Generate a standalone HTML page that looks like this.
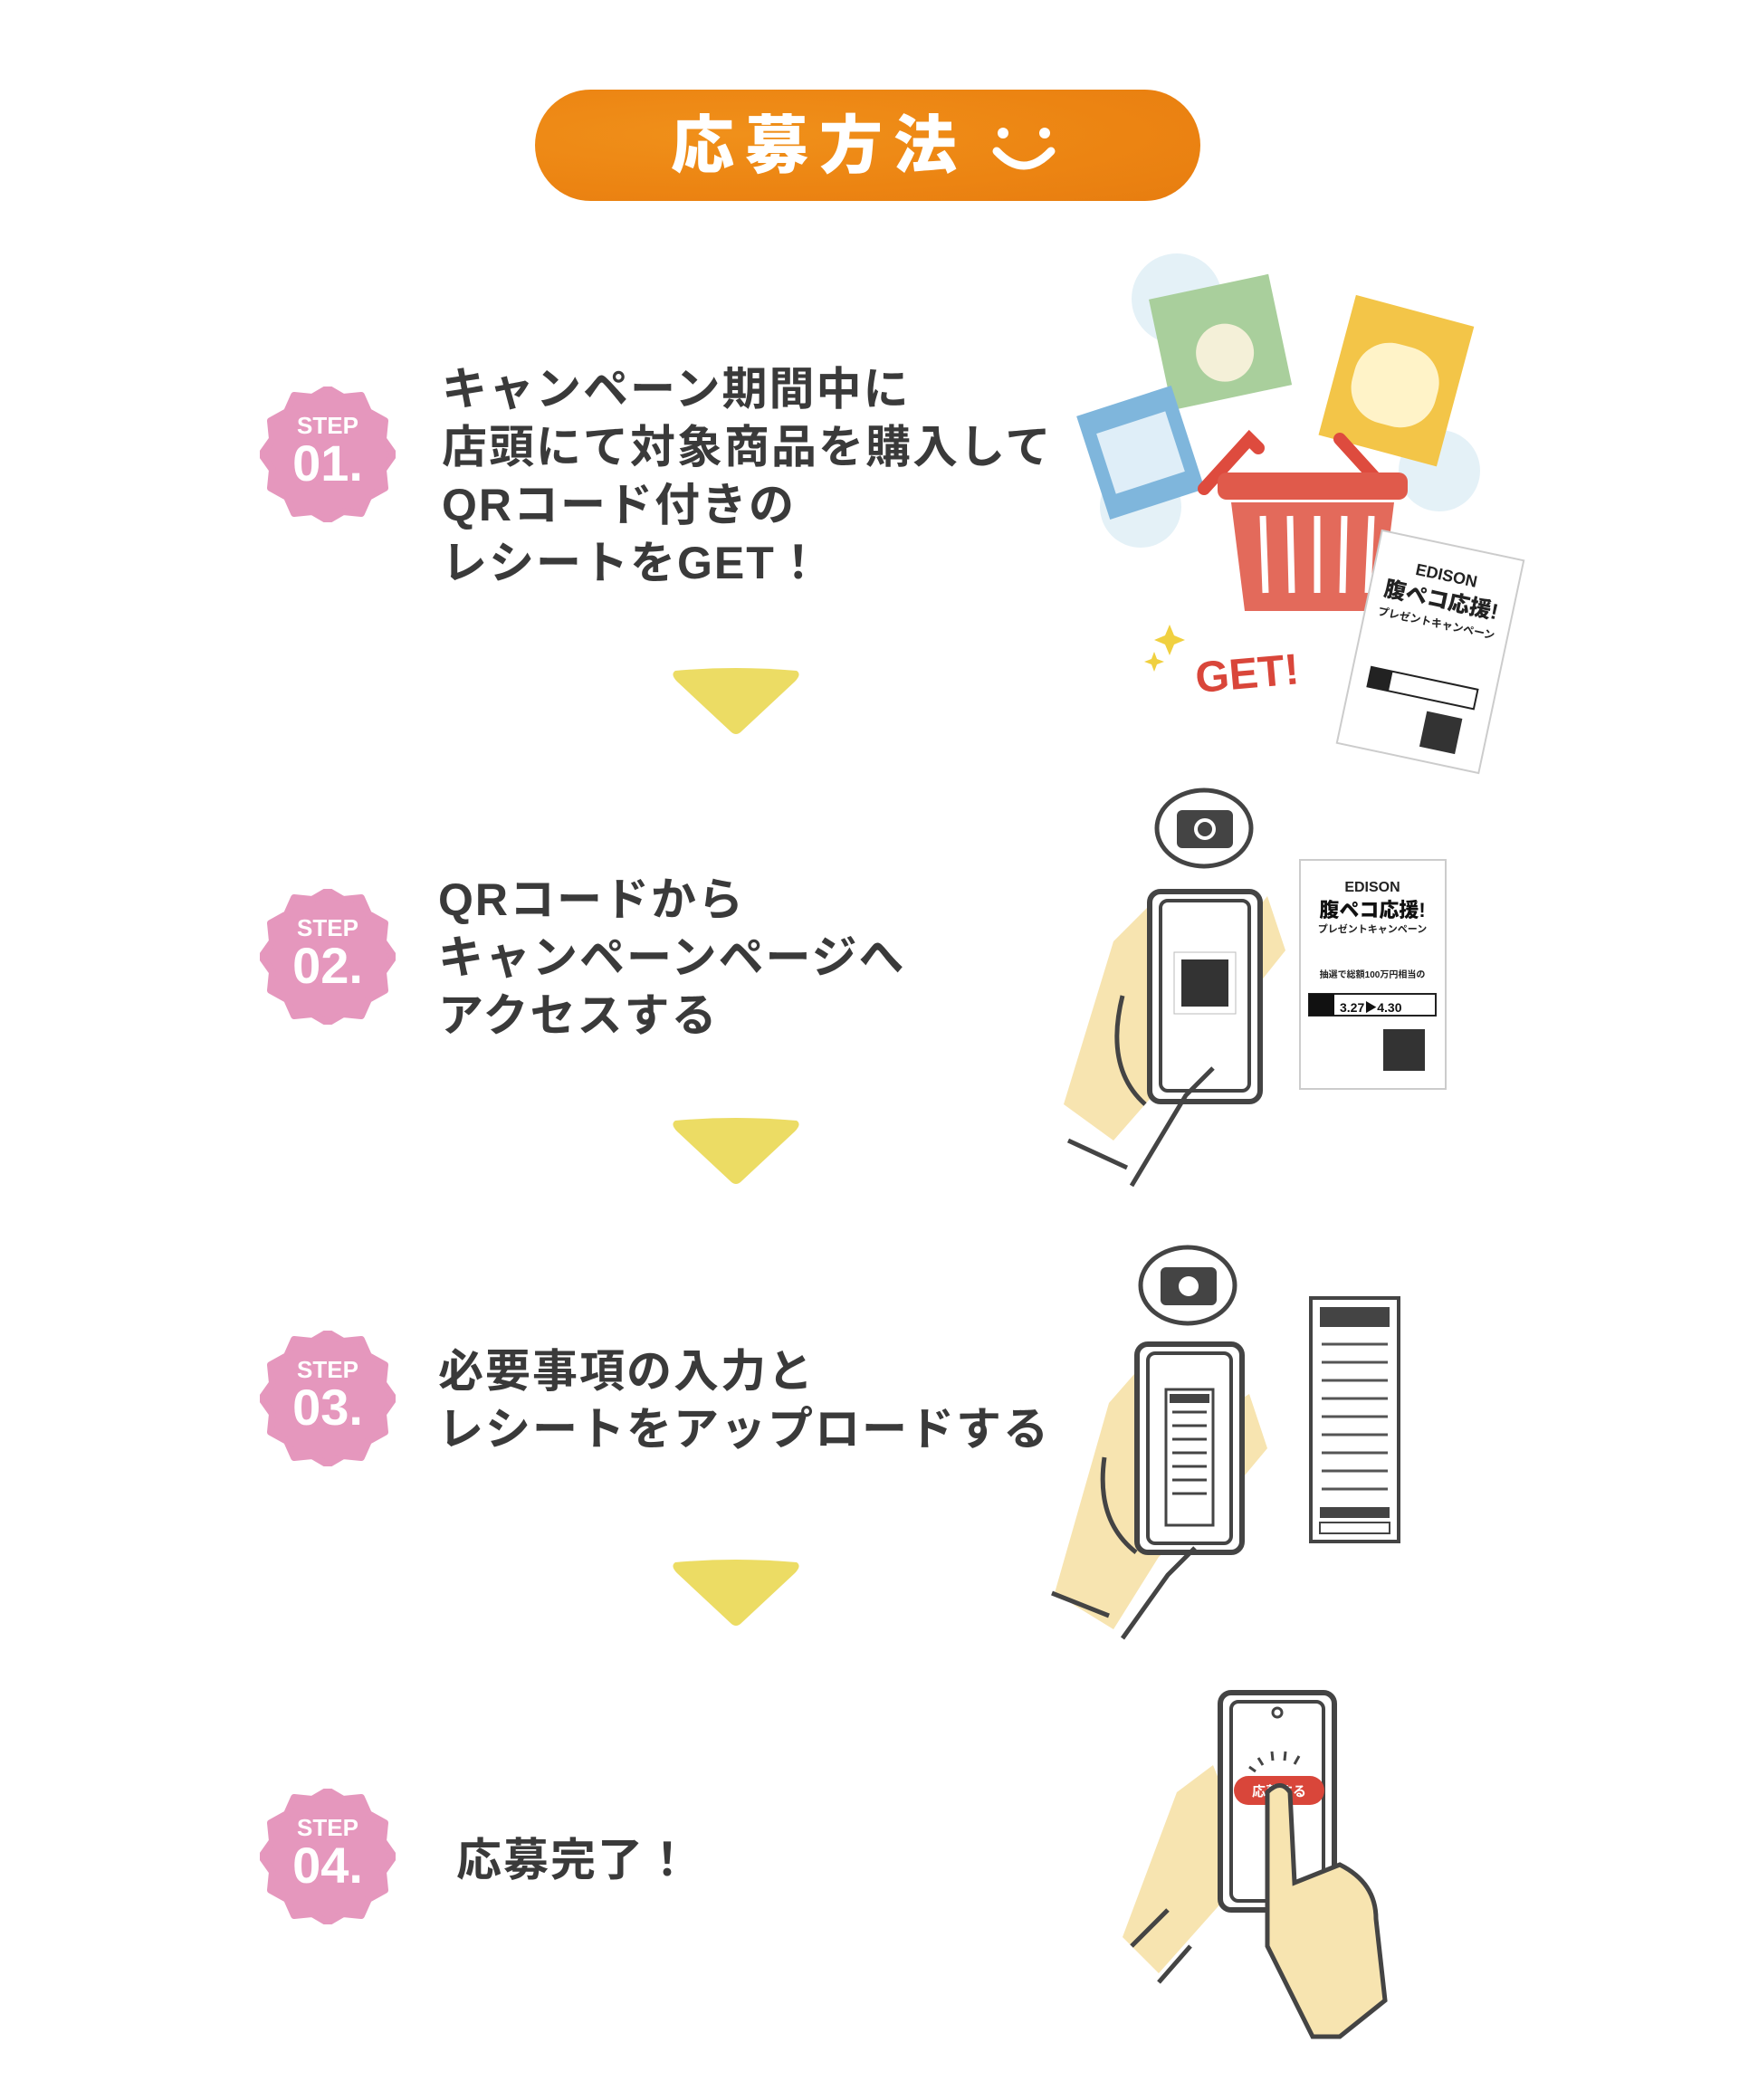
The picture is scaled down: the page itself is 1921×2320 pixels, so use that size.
<!DOCTYPE html>
<html><head><meta charset="utf-8"><style>
body{margin:0;width:1921px;height:2320px;background:#fff;position:relative;overflow:hidden;font-family:"Liberation Sans","Noto Sans CJK JP",sans-serif}
.pill{position:absolute;left:591px;top:99px;width:735px;height:123px;border-radius:62px;background:radial-gradient(ellipse at 30% 40%,#f0901a,#ec8412 60%,#e77d10)}
.pill span{position:absolute;left:150px;top:22px;font-size:70px;font-weight:900;color:#fff;letter-spacing:12px;line-height:80px}
.badge{position:absolute;width:150px;height:150px}
.badge svg{position:absolute;left:0;top:0}
.badge .s{position:absolute;left:0;width:150px;text-align:center;color:#fff;font-weight:900}
.txt{position:absolute;font-weight:700;color:#3a3a3a;font-size:50px;line-height:64px;letter-spacing:2px;white-space:nowrap}
.arr{position:absolute;width:146px;height:75px}
</style></head><body>
<div class="pill"><span>応募方法</span>
<svg style="position:absolute;left:505px;top:38px" width="70" height="55"><circle cx="12" cy="10" r="6" fill="#fff"/><circle cx="58" cy="10" r="6" fill="#fff"/><path d="M5 30 Q35 62 65 30" stroke="#fff" stroke-width="9" fill="none" stroke-linecap="round"/></svg></div>

<div class="badge" style="left:287px;top:427px"><svg width="150" height="150"><path id="st" d="M75 2 L92 12 112 10 120 28 138 38 136 58 148 75 136 92 138 112 120 122 112 140 92 138 75 148 58 138 38 140 30 122 12 112 14 92 2 75 14 58 12 38 30 28 38 10 58 12Z" fill="#e597bd" stroke="#e597bd" stroke-width="8" stroke-linejoin="round"/></svg><div class="s" style="top:28px;font-size:26px">STEP</div><div class="s" style="top:52px;font-size:56px">01.</div></div>
<div class="badge" style="left:287px;top:982px"><svg width="150" height="150"><use href="#st"/></svg><div class="s" style="top:28px;font-size:26px">STEP</div><div class="s" style="top:52px;font-size:56px">02.</div></div>
<div class="badge" style="left:287px;top:1470px"><svg width="150" height="150"><use href="#st"/></svg><div class="s" style="top:28px;font-size:26px">STEP</div><div class="s" style="top:52px;font-size:56px">03.</div></div>
<div class="badge" style="left:287px;top:1976px"><svg width="150" height="150"><use href="#st"/></svg><div class="s" style="top:28px;font-size:26px">STEP</div><div class="s" style="top:52px;font-size:56px">04.</div></div>

<div class="txt" style="left:488px;top:398px">キャンペーン期間中に<br>店頭にて対象商品を購入して<br>QRコード付きの<br>レシートをGET！</div>
<div class="txt" style="left:484px;top:962px">QRコードから<br>キャンペーンページへ<br>アクセスする</div>
<div class="txt" style="left:484px;top:1483px">必要事項の入力と<br>レシートをアップロードする</div>
<div class="txt" style="left:504px;top:2023px">応募完了！</div>

<svg class="arr" style="left:740px;top:737px" viewBox="0 0 146 75"><path d="M6 4 Q73 -2 140 4 Q146 8 138 16 L78 72 Q73 76 68 72 L8 16 Q0 8 6 4Z" fill="#ecdc64"/></svg>
<svg class="arr" style="left:740px;top:1234px" viewBox="0 0 146 75"><path d="M6 4 Q73 -2 140 4 Q146 8 138 16 L78 72 Q73 76 68 72 L8 16 Q0 8 6 4Z" fill="#ecdc64"/></svg>
<svg class="arr" style="left:740px;top:1722px" viewBox="0 0 146 75"><path d="M6 4 Q73 -2 140 4 Q146 8 138 16 L78 72 Q73 76 68 72 L8 16 Q0 8 6 4Z" fill="#ecdc64"/></svg>

<svg style="position:absolute;left:1180px;top:270px" width="520" height="600">
<circle cx="120" cy="60" r="50" fill="#e4f1f7"/><circle cx="410" cy="250" r="45" fill="#e4f1f7"/><circle cx="80" cy="290" r="45" fill="#e4f1f7"/>
<g transform="rotate(-12 170 105)"><rect x="100" y="45" width="135" height="125" fill="#a9cf9c"/><circle cx="170" cy="120" r="32" fill="#f4f0d8"/></g>
<g transform="rotate(15 360 150)"><rect x="295" y="70" width="135" height="160" fill="#f3c548"/><rect x="315" y="110" width="95" height="90" rx="40" fill="#fff3c8"/></g>
<g transform="rotate(-18 80 230)"><rect x="25" y="170" width="110" height="120" fill="#7fb6dc"/><rect x="40" y="195" width="80" height="70" fill="#dfeef8"/></g>
<path d="M150 270 L200 215 L210 225 M300 215 L350 270" stroke="#de4b3e" stroke-width="14" fill="none" stroke-linecap="round"/>
<rect x="165" y="252" width="210" height="30" rx="10" fill="#e05a4b"/>
<path d="M180 285 L360 285 L345 405 L195 405Z" fill="#e36a5b"/>
<g stroke="#fff" stroke-width="7"><line x1="215" y1="300" x2="218" y2="385"/><line x1="245" y1="300" x2="247" y2="385"/><line x1="275" y1="300" x2="275" y2="385"/><line x1="305" y1="300" x2="303" y2="385"/><line x1="335" y1="300" x2="331" y2="385"/></g>
<text x="140" y="490" font-size="48" font-weight="900" fill="#d9463a" transform="rotate(-5 200 470)" font-family="Liberation Sans,sans-serif">GET!</text>
<path d="M112 420 l5 12 12 5 -12 5 -5 12 -5 -12 -12 -5 12 -5z M95 450 l3 8 8 3 -8 3 -3 8 -3 -8 -8 -3 8 -3z" fill="#f0d040"/>
<g transform="rotate(12 400 450)"><rect x="320" y="330" width="160" height="240" fill="#fff" stroke="#ccc" stroke-width="2"/>
<text x="400" y="370" font-size="18" font-weight="900" text-anchor="middle" fill="#222">EDISON</text>
<text x="400" y="400" font-size="24" font-weight="900" text-anchor="middle" fill="#222">腹ペコ応援!</text>
<text x="400" y="422" font-size="12" font-weight="700" text-anchor="middle" fill="#222">プレゼントキャンペーン</text>
<rect x="340" y="480" width="120" height="22" fill="none" stroke="#222" stroke-width="2"/><rect x="340" y="480" width="24" height="22" fill="#222"/>
<rect x="410" y="515" width="40" height="40" fill="#333"/></g>
</svg>

<svg style="position:absolute;left:1150px;top:850px" width="500" height="480">
<path d="M80 190 L130 140 Q160 140 165 170 L180 230 L250 140 L270 200 L230 250 L150 330 L80 410 L25 370Z" fill="#f7e4b0"/>
<ellipse cx="180" cy="65" rx="52" ry="42" fill="#fff" stroke="#444" stroke-width="5"/>
<rect x="150" y="45" width="62" height="42" rx="6" fill="#444"/><circle cx="181" cy="66" r="12" fill="#fff"/><circle cx="181" cy="66" r="8" fill="#444"/>
<rect x="120" y="135" width="122" height="232" rx="12" fill="#fff" stroke="#444" stroke-width="6"/>
<rect x="132" y="145" width="98" height="210" rx="8" fill="none" stroke="#444" stroke-width="4"/>
<rect x="147" y="202" width="68" height="68" fill="#fff" stroke="#bbb"/><rect x="155" y="210" width="52" height="52" fill="#333"/>
<path d="M90 250 Q70 330 115 370 M190 330 L160 360 L100 460 M30 410 L95 440" stroke="#444" stroke-width="5" fill="none"/>
<rect x="286" y="100" width="161" height="253" fill="#fff" stroke="#ccc" stroke-width="2"/>
<text x="366" y="135" font-size="16" font-weight="900" text-anchor="middle" fill="#222">EDISON</text>
<text x="366" y="163" font-size="22" font-weight="900" text-anchor="middle" fill="#111">腹ペコ応援!</text>
<text x="366" y="180" font-size="11" font-weight="700" text-anchor="middle" fill="#222">プレゼントキャンペーン</text>
<text x="366" y="230" font-size="10" font-weight="700" text-anchor="middle" fill="#222">抽選で総額100万円相当の</text>
<rect x="296" y="248" width="140" height="24" fill="none" stroke="#222" stroke-width="2"/><rect x="296" y="248" width="28" height="24" fill="#111"/>
<text x="330" y="268" font-size="14" font-weight="900" fill="#111">3.27▶4.30</text>
<rect x="378" y="287" width="46" height="46" fill="#333"/>
</svg>

<svg style="position:absolute;left:1150px;top:1360px" width="420" height="460">
<path d="M75 190 L110 150 Q140 150 142 185 L150 230 L230 180 L250 240 L200 300 L130 360 L80 440 L15 400Z" fill="#f7e4b0"/>
<ellipse cx="162" cy="60" rx="52" ry="42" fill="#fff" stroke="#444" stroke-width="5"/>
<rect x="132" y="40" width="62" height="42" rx="6" fill="#444"/><circle cx="163" cy="61" r="11" fill="#fff"/>
<rect x="106" y="125" width="116" height="230" rx="12" fill="#fff" stroke="#444" stroke-width="6"/>
<rect x="118" y="135" width="92" height="210" rx="8" fill="none" stroke="#444" stroke-width="4"/>
<rect x="138" y="175" width="52" height="150" fill="#fff" stroke="#444" stroke-width="3"/><rect x="142" y="180" width="44" height="10" fill="#444"/>
<g stroke="#444" stroke-width="3"><line x1="145" y1="200" x2="183" y2="200"/><line x1="145" y1="215" x2="183" y2="215"/><line x1="145" y1="230" x2="183" y2="230"/><line x1="145" y1="245" x2="183" y2="245"/><line x1="145" y1="260" x2="183" y2="260"/><line x1="145" y1="275" x2="183" y2="275"/><line x1="145" y1="290" x2="183" y2="290"/></g>
<path d="M70 250 Q60 320 105 355 M170 350 L140 380 L90 450 M12 400 L75 425" stroke="#444" stroke-width="5" fill="none"/>
<rect x="298" y="74" width="97" height="269" fill="#fff" stroke="#444" stroke-width="4"/>
<rect x="308" y="84" width="77" height="22" fill="#444"/>
<g stroke="#555" stroke-width="3"><line x1="310" y1="125" x2="383" y2="125"/><line x1="310" y1="145" x2="383" y2="145"/><line x1="310" y1="165" x2="383" y2="165"/><line x1="310" y1="185" x2="383" y2="185"/><line x1="310" y1="205" x2="383" y2="205"/><line x1="310" y1="225" x2="383" y2="225"/><line x1="310" y1="245" x2="383" y2="245"/><line x1="310" y1="265" x2="383" y2="265"/><line x1="310" y1="285" x2="383" y2="285"/></g>
<rect x="308" y="305" width="77" height="12" fill="#444"/><rect x="308" y="322" width="77" height="12" fill="none" stroke="#444" stroke-width="2"/>
</svg>

<svg style="position:absolute;left:1220px;top:1850px" width="380" height="420">
<path d="M80 130 L120 100 L140 150 L140 240 L60 330 L20 290Z" fill="#f7e4b0"/>
<rect x="128" y="20" width="126" height="240" rx="12" fill="#fff" stroke="#444" stroke-width="6"/>
<rect x="140" y="30" width="102" height="220" rx="8" fill="none" stroke="#444" stroke-width="4"/>
<circle cx="191" cy="42" r="5" fill="none" stroke="#444" stroke-width="3"/>
<rect x="143" y="112" width="100" height="32" rx="16" fill="#d9463a"/>
<text x="193" y="134" font-size="15" font-weight="700" fill="#fff" text-anchor="middle">応募する</text>
<path d="M180 130 Q195 115 205 130 L210 230 L260 210 Q300 230 300 270 L310 360 L260 400 L230 400 L180 300Z" fill="#f7e4b0" stroke="#444" stroke-width="5"/>
<path d="M30 300 L70 260 M60 340 L95 300" stroke="#444" stroke-width="5"/>
<g stroke="#444" stroke-width="3"><line x1="170" y1="92" x2="175" y2="100"/><line x1="185" y1="85" x2="186" y2="95"/><line x1="200" y1="85" x2="199" y2="95"/><line x1="215" y1="90" x2="210" y2="99"/><line x1="160" y1="102" x2="167" y2="107"/></g>
</svg>
</body></html>
